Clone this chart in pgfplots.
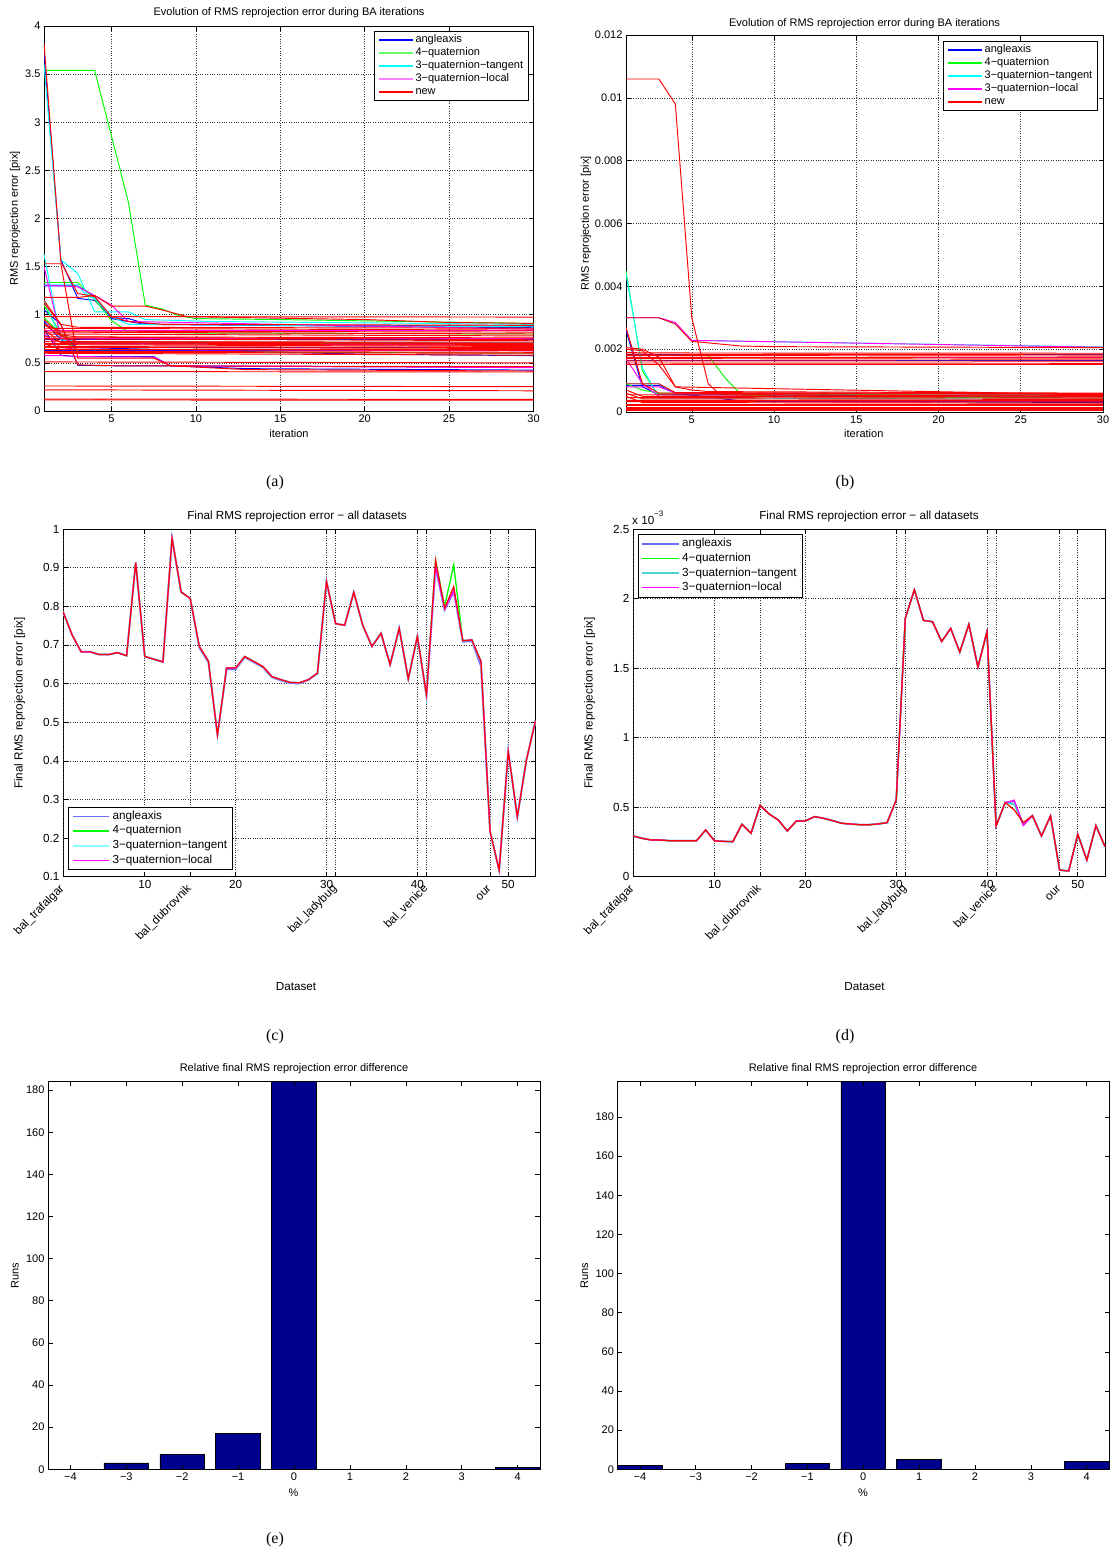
\documentclass[border=0pt]{standalone}
\usepackage{fontspec}
\setmainfont{Liberation Sans}
\newfontfamily\capfont{Liberation Serif}
\usepackage{pgfplots}
\usepackage{pgfplotstable}
\pgfplotsset{compat=1.18}

\definecolor{mblue}{rgb}{0,0,1}
\definecolor{mgreen}{rgb}{0,1,0}
\definecolor{mcyan}{rgb}{0,1,1}
\definecolor{mmag}{rgb}{1,0,1}
\definecolor{mred}{rgb}{1,0,0}
\definecolor{lblue}{rgb}{0.42,0.42,1}
\definecolor{lcyan}{rgb}{0.55,1,1}
\definecolor{lgreen}{rgb}{0.4,1,0.4}
\definecolor{lmag}{rgb}{1,0.5,1}
\definecolor{dcyan}{rgb}{0.3,0.82,0.82}
\definecolor{navy}{rgb}{0,0,0.5625}

\newcommand\fA{\fontsize{11}{12}\selectfont}
\newcommand\fC{\fontsize{11.7}{13}\selectfont}

\pgfplotsset{
  mat/.style={
    scale only axis, anchor=south west,
    axis line style={line width=0.8pt},
    tick align=inside, major tick length=4.5pt,
    tick style={black, line width=0.6pt},
    /pgf/number format/assume math mode=true,
    scaled ticks=false,
    every axis plot/.append style={line width=0.95pt},
  },
  matgrid/.style={xmajorgrids, ymajorgrids,
    major grid style={dotted, black!80, line width=0.6pt}},
  B/.style={draw=mblue}, G/.style={draw=mgreen}, C/.style={draw=mcyan},
  M/.style={draw=mmag}, R/.style={draw=mred},
}

% ---------- data of panel (c): final RMS, columns angleaxis, 4-quat, 3-quat-tangent, 3-quat-local, new
\pgfplotstableread{
x a g c m r
1 0.786 0.786 0.786 0.786 0.786
2 0.726 0.726 0.726 0.726 0.726
3 0.682 0.682 0.682 0.682 0.682
4 0.682 0.682 0.682 0.682 0.682
5 0.675 0.675 0.675 0.675 0.675
6 0.675 0.675 0.675 0.675 0.675
7 0.680 0.680 0.680 0.680 0.680
8 0.672 0.672 0.672 0.672 0.672
9 0.913 0.913 0.913 0.913 0.913
10 0.670 0.670 0.670 0.670 0.670
11 0.663 0.663 0.663 0.663 0.663
12 0.656 0.656 0.656 0.656 0.656
13 0.976 0.976 0.976 0.976 0.976
14 0.837 0.837 0.837 0.837 0.837
15 0.820 0.820 0.820 0.820 0.820
16 0.693 0.696 0.696 0.696 0.696
17 0.655 0.658 0.658 0.658 0.658
18 0.467 0.467 0.467 0.467 0.467
19 0.637 0.640 0.640 0.640 0.640
20 0.637 0.640 0.640 0.640 0.640
21 0.668 0.670 0.670 0.670 0.670
22 0.655 0.657 0.657 0.657 0.657
23 0.642 0.644 0.644 0.644 0.644
24 0.616 0.618 0.618 0.618 0.618
25 0.608 0.610 0.610 0.610 0.610
26 0.601 0.603 0.603 0.603 0.603
27 0.600 0.602 0.602 0.602 0.602
28 0.609 0.610 0.610 0.610 0.610
29 0.626 0.627 0.627 0.627 0.627
30 0.864 0.864 0.864 0.864 0.864
31 0.755 0.755 0.755 0.755 0.755
32 0.751 0.751 0.751 0.751 0.751
33 0.836 0.836 0.836 0.836 0.836
34 0.750 0.750 0.750 0.750 0.750
35 0.696 0.696 0.696 0.696 0.696
36 0.730 0.730 0.730 0.730 0.730
37 0.649 0.649 0.649 0.649 0.649
38 0.743 0.743 0.743 0.743 0.743
39 0.612 0.612 0.612 0.612 0.612
40 0.722 0.722 0.722 0.722 0.722
41 0.568 0.571 0.571 0.571 0.571
42 0.900 0.919 0.905 0.903 0.919
43 0.790 0.800 0.792 0.792 0.795
44 0.838 0.907 0.842 0.840 0.851
45 0.708 0.711 0.711 0.711 0.711
46 0.710 0.713 0.713 0.713 0.713
47 0.645 0.657 0.657 0.657 0.657
48 0.217 0.217 0.217 0.217 0.217
49 0.117 0.117 0.117 0.117 0.117
50 0.424 0.424 0.424 0.424 0.424
51 0.255 0.255 0.255 0.255 0.255
52 0.402 0.402 0.402 0.402 0.402
53 0.504 0.504 0.504 0.504 0.504
}\tblC

% ---------- data of panel (d), in units of 1e-3 pix
\pgfplotstableread{
x a g c m r
1 0.293 0.293 0.293 0.293 0.293
2 0.276 0.276 0.276 0.276 0.276
3 0.264 0.264 0.264 0.264 0.264
4 0.264 0.264 0.264 0.264 0.264
5 0.259 0.259 0.259 0.259 0.259
6 0.259 0.259 0.259 0.259 0.259
7 0.259 0.259 0.259 0.259 0.259
8 0.259 0.259 0.259 0.259 0.259
9 0.336 0.336 0.336 0.336 0.336
10 0.257 0.257 0.257 0.257 0.257
11 0.254 0.254 0.254 0.254 0.254
12 0.252 0.252 0.252 0.252 0.252
13 0.377 0.377 0.377 0.377 0.377
14 0.312 0.312 0.312 0.312 0.312
15 0.513 0.513 0.513 0.513 0.513
16 0.451 0.451 0.451 0.451 0.451
17 0.408 0.408 0.408 0.408 0.408
18 0.329 0.329 0.329 0.329 0.329
19 0.401 0.401 0.401 0.401 0.401
20 0.401 0.401 0.401 0.401 0.401
21 0.432 0.432 0.432 0.432 0.432
22 0.420 0.420 0.420 0.420 0.420
23 0.403 0.403 0.403 0.403 0.403
24 0.384 0.384 0.384 0.384 0.384
25 0.379 0.379 0.379 0.379 0.379
26 0.374 0.374 0.374 0.374 0.374
27 0.374 0.374 0.374 0.374 0.374
28 0.379 0.379 0.379 0.379 0.379
29 0.389 0.389 0.389 0.389 0.389
30 0.552 0.552 0.552 0.552 0.552
31 1.859 1.859 1.859 1.859 1.859
32 2.063 2.063 2.063 2.063 2.063
33 1.843 1.843 1.843 1.843 1.843
34 1.833 1.833 1.833 1.833 1.833
35 1.691 1.691 1.691 1.691 1.691
36 1.785 1.785 1.785 1.785 1.785
37 1.615 1.615 1.615 1.615 1.615
38 1.814 1.814 1.814 1.814 1.814
39 1.507 1.507 1.507 1.507 1.507
40 1.763 1.763 1.763 1.763 1.763
41 0.365 0.365 0.365 0.365 0.365
42 0.533 0.533 0.533 0.533 0.533
43 0.540 0.520 0.520 0.550 0.480
44 0.370 0.385 0.380 0.370 0.389
45 0.439 0.439 0.439 0.439 0.439
46 0.293 0.293 0.293 0.293 0.293
47 0.437 0.437 0.437 0.437 0.437
48 0.048 0.048 0.048 0.048 0.048
49 0.041 0.041 0.041 0.041 0.041
50 0.305 0.305 0.305 0.305 0.305
51 0.120 0.120 0.120 0.120 0.120
52 0.367 0.367 0.367 0.367 0.367
53 0.216 0.216 0.216 0.216 0.216
}\tblD

\begin{document}
\begin{tikzpicture}
\useasboundingbox (0pt,0pt) rectangle (1112pt,-1553pt);

% ================= (a) =================
\begin{axis}[mat, matgrid, at={(44pt,-411pt)}, width=489.5pt, height=385pt,
  xmin=1, xmax=30, ymin=0, ymax=4,
  xtick={5,10,15,20,25,30},
  ytick={0,0.5,1,1.5,2,2.5,3,3.5,4},
  yticklabels={0,0.5,1,1.5,2,2.5,3,3.5,4},
  tick label style={font=\fA},
  every axis plot/.append style={forget plot},
  legend style={at={(0.99,0.987)}, anchor=north east, draw=black, line width=0.9pt,
    fill=white, font=\fA, inner xsep=3pt, inner ysep=2pt, cells={anchor=west},
    nodes={inner xsep=2pt, inner ysep=1.2pt, text height=8pt, text depth=2.6pt}},
  legend image code/.code={\draw[#1] (0pt,0pt) -- (34pt,0pt);},
]
% angleaxis
\addplot[B] coordinates {(1,3.72)(2,1.57)(3,1.17)(4,1.15)(5,0.97)(6,0.96)(7,0.91)(8,0.90)(30,0.88)};
\addplot[B] coordinates {(1,1.30)(3,1.30)(4,1.19)(5,0.96)(6,0.93)(7,0.90)(30,0.865)};
\addplot[B] coordinates {(1,1.05)(2,0.90)(3,0.475)(5,0.47)(30,0.455)};
\addplot[B] coordinates {(1,0.85)(2,0.58)(3,0.565)(7.5,0.565)(8.5,0.47)(13,0.44)(30,0.425)};
\addplot[B] coordinates {(1,0.93)(2,0.74)(3,0.66)(10,0.63)(20,0.59)(30,0.575)};
\addplot[B] coordinates {(1,0.745)(30,0.745)};
\addplot[B] coordinates {(1,0.705)(30,0.705)};
\addplot[B] coordinates {(1,0.665)(30,0.665)};
\addplot[B] coordinates {(1,0.625)(30,0.625)};
% 4-quaternion
\addplot[G] coordinates {(1,3.54)(4,3.54)(6,2.17)(7,1.10)(8,1.06)(9,0.99)(10,0.96)(15,0.95)(30,0.91)};
\addplot[G] coordinates {(1,1.335)(3,1.335)(4,1.16)(5,0.94)(6,0.82)(10,0.81)(30,0.80)};
\addplot[G] coordinates {(1,0.97)(2,0.80)(3,0.71)(30,0.69)};
\addplot[G] coordinates {(1,1.10)(2,0.80)(3,0.62)(30,0.60)};
% 3-quaternion-tangent
\addplot[C] coordinates {(1,3.6)(2,1.57)(3,1.43)(4,1.03)(6,1.03)(7,0.95)(11,0.93)(30,0.90)};
\addplot[C] coordinates {(1,1.63)(2,0.74)(3,0.72)(30,0.70)};
\addplot[C] coordinates {(1,1.31)(3,1.31)(3.5,1.2)(4,1.17)(5,0.98)(6,0.90)(30,0.875)};
\addplot[C] coordinates {(1,1.15)(2,0.75)(3,0.72)(30,0.71)};
% 3-quaternion-local
\addplot[M] coordinates {(1,1.31)(3,1.29)(4,1.20)(5,1.10)(6,0.93)(30,0.85)};
\addplot[M] coordinates {(1,0.80)(2,0.66)(3,0.64)(30,0.625)};
\addplot[M] coordinates {(1,1.5)(2,0.76)(3,0.70)(30,0.685)};
\addplot[M] coordinates {(1,0.835)(30,0.835)};
\addplot[M] coordinates {(1,0.755)(30,0.755)};
\addplot[M] coordinates {(1,0.575)(2,0.575)(3,0.565)(7.5,0.56)(8.5,0.47)(30,0.45)};
% new
\addplot[R] coordinates {(1,3.82)(2,1.55)(3,1.22)(4,1.19)(5,0.98)(6,0.93)(8,0.90)(30,0.89)};
\addplot[R] coordinates {(1,1.53)(2,1.53)(3,0.55)(7.5,0.55)(8.5,0.47)(13,0.43)(30,0.415)};
\addplot[R] coordinates {(1,1.18)(3,1.18)(4,1.20)(5,1.09)(7,1.09)(8,1.05)(9.5,0.98)(20,0.95)(25,0.92)(30,0.91)};
\addplot[R] coordinates {(1,0.98)(9,0.98)(30,0.976)};
\addplot[R] coordinates {(1,1.15)(2,0.90)(3,0.48)(5,0.47)(30,0.46)};
\addplot[R] coordinates {(1,0.51)(30,0.50)};
\addplot[R] coordinates {(1,0.41)(30,0.405)};
\addplot[R] coordinates {(1,0.26)(30,0.253)};
\addplot[R] coordinates {(1,0.22)(30,0.21)};
\addplot[R] coordinates {(1,0.125)(30,0.12)};
\addplot[R] coordinates {(1,0.115)(30,0.112)};
\addplot[R] coordinates {(1,1.12)(2,0.90)(3,0.87)(30,0.86)};
\addplot[R] coordinates {(1,0.86)(30,0.84)};
\addplot[R] coordinates {(1,0.90)(2,0.83)(30,0.82)};
\addplot[R] coordinates {(1,0.82)(30,0.80)};
\addplot[R] coordinates {(1,0.80)(30,0.78)};
\addplot[R] coordinates {(1,0.95)(2,0.79)(3,0.77)(30,0.76)};
\addplot[R] coordinates {(1,0.77)(30,0.74)};
\addplot[R] coordinates {(1,0.75)(30,0.73)};
\addplot[R] coordinates {(1,0.76)(2,0.72)(30,0.715)};
\addplot[R] coordinates {(1,0.72)(30,0.70)};
\addplot[R] coordinates {(1,0.85)(2,0.71)(30,0.69)};
\addplot[R] coordinates {(1,0.70)(30,0.68)};
\addplot[R] coordinates {(1,0.69)(30,0.67)};
\addplot[R] coordinates {(1,0.67)(30,0.66)};
\addplot[R] coordinates {(1,0.66)(30,0.65)};
\addplot[R] coordinates {(1,0.64)(30,0.64)};
\addplot[R] coordinates {(1,0.70)(2,0.64)(30,0.63)};
\addplot[R] coordinates {(1,0.62)(30,0.61)};
\addplot[R] coordinates {(1,0.61)(30,0.60)};
\addplot[R] coordinates {(1,0.60)(30,0.58)};
\addplot[R] coordinates {(1,0.90)(2,0.78)(3,0.72)(30,0.70)};
\addlegendimage{draw=mblue, line width=1.4pt}\addlegendentry{angleaxis}
\addlegendimage{draw=lgreen, line width=1.7pt}\addlegendentry{4−quaternion}
\addlegendimage{draw=mcyan, line width=1.4pt}\addlegendentry{3−quaternion−tangent}
\addlegendimage{draw=lmag, line width=1.7pt}\addlegendentry{3−quaternion−local}
\addlegendimage{draw=mred, line width=1.4pt}\addlegendentry{new}
\end{axis}

% ================= (b) =================
\begin{axis}[mat, matgrid, at={(626pt,-412pt)}, width=477pt, height=377pt,
  xmin=1, xmax=30, ymin=0, ymax=0.012,
  xtick={5,10,15,20,25,30},
  ytick={0,0.002,0.004,0.006,0.008,0.010,0.012},
  yticklabels={0,0.002,0.004,0.006,0.008,0.01,0.012},
  tick label style={font=\fA},
  every axis plot/.append style={forget plot},
  legend style={at={(0.989,0.985)}, anchor=north east, draw=black, line width=0.9pt,
    fill=white, font=\fA, inner xsep=3pt, inner ysep=2pt, cells={anchor=west},
    nodes={inner xsep=2pt, inner ysep=1.2pt, text height=8pt, text depth=2.6pt}},
  legend image code/.code={\draw[#1] (0pt,0pt) -- (34pt,0pt);},
]
\addplot[B] coordinates {(1,0.0026)(2,0.0008)(3,0.00055)(30,0.0005)};
\addplot[B] coordinates {(1,0.00085)(3,0.00085)(4,0.0006)(8,0.00035)(30,0.0003)};
\addplot[B] coordinates {(1,0.00183)(30,0.00183)};
\addplot[B] coordinates {(1,0.00165)(30,0.00165)};
\addplot[B] coordinates {(1,0.00035)(30,0.00035)};
\addplot[G] coordinates {(1,0.0045)(2,0.0013)(3,0.0005)(30,0.00045)};
\addplot[G] coordinates {(1,0.0018)(6,0.0018)(7,0.0011)(8,0.00055)(10,0.0005)(30,0.0005)};
\addplot[G] coordinates {(1,0.0009)(2,0.0007)(3,0.0006)(30,0.0005)};
\addplot[C] coordinates {(1,0.0044)(2,0.0014)(3,0.00045)(30,0.0004)};
\addplot[C] coordinates {(1,0.0030)(3,0.0030)(4,0.0028)(5,0.00228)(30,0.00207)};
\addplot[C] coordinates {(1,0.0009)(3,0.0009)(4,0.0006)(30,0.00055)};
\addplot[M] coordinates {(1,0.0017)(2,0.0009)(3,0.0005)(30,0.00048)};
\addplot[M] coordinates {(1,0.0030)(3,0.0030)(4,0.00285)(5,0.00228)(30,0.00206)};
\addplot[M] coordinates {(1,0.0008)(3,0.0008)(4,0.0006)(30,0.00058)};
\addplot[M] coordinates {(1,0.00175)(30,0.00175)};
\addplot[M] coordinates {(1,0.00025)(30,0.00025)};
\addplot[R] coordinates {(1,0.0106)(3,0.0106)(4,0.0098)(5,0.0030)(6,0.0009)(6.5,0.00066)(7,0.00055)(30,0.0005)};
\addplot[R] coordinates {(1,0.0030)(3,0.0030)(4,0.0028)(5,0.00225)(6,0.0022)(8,0.0021)(10,0.00208)(30,0.00205)};
\addplot[R] coordinates {(1,0.0027)(2,0.0009)(3,0.0006)(30,0.00056)};
\addplot[R] coordinates {(1,0.00205)(2,0.0020)(3,0.00175)(4,0.0008)(5,0.0007)(6,0.00065)(30,0.0006)};
\addplot[R] coordinates {(1,0.0020)(2,0.00195)(3,0.0015)(4,0.0008)(30,0.00055)};
\addplot[R] coordinates {(1,0.0019)(2,0.00188)(30,0.00187)};
\addplot[R] coordinates {(1,0.00184)(30,0.00182)};
\addplot[R] coordinates {(1,0.0018)(30,0.00178)};
\addplot[R] coordinates {(1,0.00174)(30,0.00172)};
\addplot[R] coordinates {(1,0.0017)(30,0.00168)};
\addplot[R] coordinates {(1,0.00163)(30,0.00162)};
\addplot[R] coordinates {(1,0.00156)(30,0.00155)};
\addplot[R] coordinates {(1,0.0015)(30,0.0015)};
\addplot[R] coordinates {(1,0.0009)(3,0.0009)(4,0.00062)(30,0.00058)};
\addplot[R] coordinates {(1,0.00055)(30,0.00053)};
\addplot[R] coordinates {(1,0.0007)(2,0.0005)(30,0.00048)};
\addplot[R] coordinates {(1,0.00046)(30,0.00044)};
\addplot[R] coordinates {(1,0.0006)(2,0.00042)(30,0.0004)};
\addplot[R] coordinates {(1,0.00037)(30,0.00036)};
\addplot[R] coordinates {(1,0.00033)(30,0.00032)};
\addplot[R] coordinates {(1,0.0005)(2,0.0003)(30,0.00028)};
\addplot[R] coordinates {(1,0.00024)(30,0.00024)};
\addplot[R] coordinates {(1,0.0002)(30,0.0002)};
\addplot[R] coordinates {(1,0.00016)(30,0.00016)};
\addplot[R] coordinates {(1,0.00012)(30,0.00012)};
\addplot[R] coordinates {(1,0.00008)(30,0.00008)};
\addplot[R] coordinates {(1,0.00004)(30,0.00004)};
\addlegendimage{draw=mblue, line width=1.8pt}\addlegendentry{angleaxis}
\addlegendimage{draw=mgreen, line width=1.8pt}\addlegendentry{4−quaternion}
\addlegendimage{draw=mcyan, line width=1.8pt}\addlegendentry{3−quaternion−tangent}
\addlegendimage{draw=mmag, line width=1.8pt}\addlegendentry{3−quaternion−local}
\addlegendimage{draw=mred, line width=1.8pt}\addlegendentry{new}
\end{axis}

% ================= (c) =================
\begin{axis}[mat, matgrid, at={(63pt,-876.7pt)}, width=472.5pt, height=347.7pt,
  xmin=1, xmax=53, ymin=0.1, ymax=1,
  xtick={10,20,30,40,50},
  ytick={0.1,0.2,0.3,0.4,0.5,0.6,0.7,0.8,0.9,1},
  yticklabels={0.1,0.2,0.3,0.4,0.5,0.6,0.7,0.8,0.9,1},
  tick label style={font=\fC},
  extra x ticks={1,15,31,41,48},
  extra x tick labels={bal\_trafalgar,bal\_dubrovnik,bal\_ladybug,bal\_venice,our},
  extra x tick style={grid=major, tick label style={xshift=2pt, yshift=-8pt, rotate=45, anchor=east, font=\fC}},
  legend style={at={(0.0114,0.0193)}, anchor=south west, draw=black, line width=0.9pt,
    fill=white, font=\fC, inner xsep=3pt, inner ysep=2pt, cells={anchor=west},
    nodes={inner xsep=2.5pt, inner ysep=1.6pt, text height=8.6pt, text depth=2.8pt}},
  legend image code/.code={\draw[#1] (0pt,0pt) -- (36.5pt,0pt);},
]
\addplot[draw=lblue, line width=1.8pt] table[x=x, y=a] {\tblC};
\addlegendentry{angleaxis}
\addplot[draw=mgreen, line width=1.3pt] table[x=x, y=g] {\tblC};
\addlegendentry{4−quaternion}
\addplot[draw=lcyan, line width=1.8pt] table[x=x, y=c] {\tblC};
\addlegendentry{3−quaternion−tangent}
\addplot[draw=mmag, line width=1.3pt] table[x=x, y=m] {\tblC};
\addlegendentry{3−quaternion−local}
\addplot[draw=mred, line width=1.2pt, forget plot] table[x=x, y=r] {\tblC};
\end{axis}

% ================= (d) =================
\begin{axis}[mat, matgrid, at={(633pt,-876.7pt)}, width=472pt, height=347.7pt,
  xmin=1, xmax=53, ymin=0, ymax=2.5,
  xtick={10,20,30,40,50},
  ytick={0,0.5,1,1.5,2,2.5},
  yticklabels={0,0.5,1,1.5,2,2.5},
  tick label style={font=\fC},
  extra x ticks={1,15,31,41,48},
  extra x tick labels={bal\_trafalgar,bal\_dubrovnik,bal\_ladybug,bal\_venice,our},
  extra x tick style={grid=major, tick label style={xshift=2pt, yshift=-8pt, rotate=45, anchor=east, font=\fC}},
  legend style={at={(0.0112,0.9848)}, anchor=north west, draw=black, line width=0.9pt,
    fill=white, font=\fC, inner xsep=3pt, inner ysep=2pt, cells={anchor=west},
    nodes={inner xsep=2.5pt, inner ysep=1.6pt, text height=8.6pt, text depth=2.8pt}},
  legend image code/.code={\draw[#1] (0pt,0pt) -- (36.5pt,0pt);},
]
\addplot[draw=lblue, line width=1.5pt] table[x=x, y=a] {\tblD};
\addlegendentry{angleaxis}
\addplot[draw=mgreen, line width=1.3pt] table[x=x, y=g] {\tblD};
\addlegendentry{4−quaternion}
\addplot[draw=dcyan, line width=1.5pt] table[x=x, y=c] {\tblD};
\addlegendentry{3−quaternion−tangent}
\addplot[draw=mmag, line width=1.3pt] table[x=x, y=m] {\tblD};
\addlegendentry{3−quaternion−local}
\addplot[draw=mred, line width=1.2pt, forget plot] table[x=x, y=r] {\tblD};
\end{axis}

% ================= (e) =================
\begin{axis}[mat, axis on top, at={(48pt,-1469.3pt)}, width=492pt, height=387.6pt,
  xmin=-4.4, xmax=4.4, ymin=0, ymax=184,
  xtick={-4,-3,-2,-1,0,1,2,3,4},
  xticklabels={−4,−3,−2,−1,0,1,2,3,4},
  ytick={0,20,40,60,80,100,120,140,160,180},
  tick label style={font=\fA},
]
\addplot[ybar, bar width=0.8, fill=navy, draw=black, line width=0.6pt]
  coordinates {(-3,3)(-2,7)(-1,17)(0,184)(4,1)};
\end{axis}

% ================= (f) =================
\begin{axis}[mat, axis on top, at={(617.5pt,-1469.3pt)}, width=491.5pt, height=387.6pt,
  xmin=-4.4, xmax=4.4, ymin=0, ymax=198,
  xtick={-4,-3,-2,-1,0,1,2,3,4},
  xticklabels={−4,−3,−2,−1,0,1,2,3,4},
  ytick={0,20,40,60,80,100,120,140,160,180},
  tick label style={font=\fA},
]
\addplot[ybar, bar width=0.8, fill=navy, draw=black, line width=0.6pt]
  coordinates {(-4,2)(-1,3)(0,198)(1,5)(4,4)};
\end{axis}

% ================= titles, axis labels, captions =================
\node[font=\fA] at (289pt,-13pt) {Evolution of RMS reprojection error during BA iterations};
\node[font=\fA] at (864.5pt,-23.3pt) {Evolution of RMS reprojection error during BA iterations};
\node[font=\fC] at (297pt,-516pt) {Final RMS reprojection error − all datasets};
\node[font=\fC] at (869pt,-516pt) {Final RMS reprojection error − all datasets};
\node[font=\fA] at (294pt,-1069pt) {Relative final RMS reprojection error difference};
\node[font=\fA] at (863pt,-1069pt) {Relative final RMS reprojection error difference};

\node[font=\fA, rotate=90] at (15pt,-218.5pt) {RMS reprojection error [pix]};
\node[font=\fA, rotate=90] at (586pt,-223.5pt) {RMS reprojection error [pix]};
\node[font=\fC, rotate=90] at (19.5pt,-703pt) {Final RMS reprojection error [pix]};
\node[font=\fC, rotate=90] at (589.7pt,-703pt) {Final RMS reprojection error [pix]};
\node[font=\fA, rotate=90] at (15pt,-1275.5pt) {Runs};
\node[font=\fA, rotate=90] at (584.4pt,-1275.5pt) {Runs};

\node[font=\fA] at (289pt,-433.3pt) {iteration};
\node[font=\fA] at (863.8pt,-433.3pt) {iteration};
\node[font=\fC] at (296pt,-987pt) {Dataset};
\node[font=\fC] at (864.5pt,-987pt) {Dataset};
\node[font=\fA] at (293.6pt,-1492.7pt) {\%};
\node[font=\fA] at (863pt,-1492.7pt) {\%};

\node[font=\fC, anchor=base west, inner sep=0pt] at (632pt,-524pt)
  {x 10\raisebox{0.6em}{\fontsize{8}{8}\selectfont −3}};

\node[font=\capfont\fontsize{16}{18}\selectfont] at (275pt,-483pt) {(a)};
\node[font=\capfont\fontsize{16}{18}\selectfont] at (845pt,-483pt) {(b)};
\node[font=\capfont\fontsize{16}{18}\selectfont] at (275pt,-1037pt) {(c)};
\node[font=\capfont\fontsize{16}{18}\selectfont] at (845pt,-1037pt) {(d)};
\node[font=\capfont\fontsize{16}{18}\selectfont] at (275pt,-1540pt) {(e)};
\node[font=\capfont\fontsize{16}{18}\selectfont] at (845pt,-1540pt) {(f)};
\end{tikzpicture}
\end{document}
